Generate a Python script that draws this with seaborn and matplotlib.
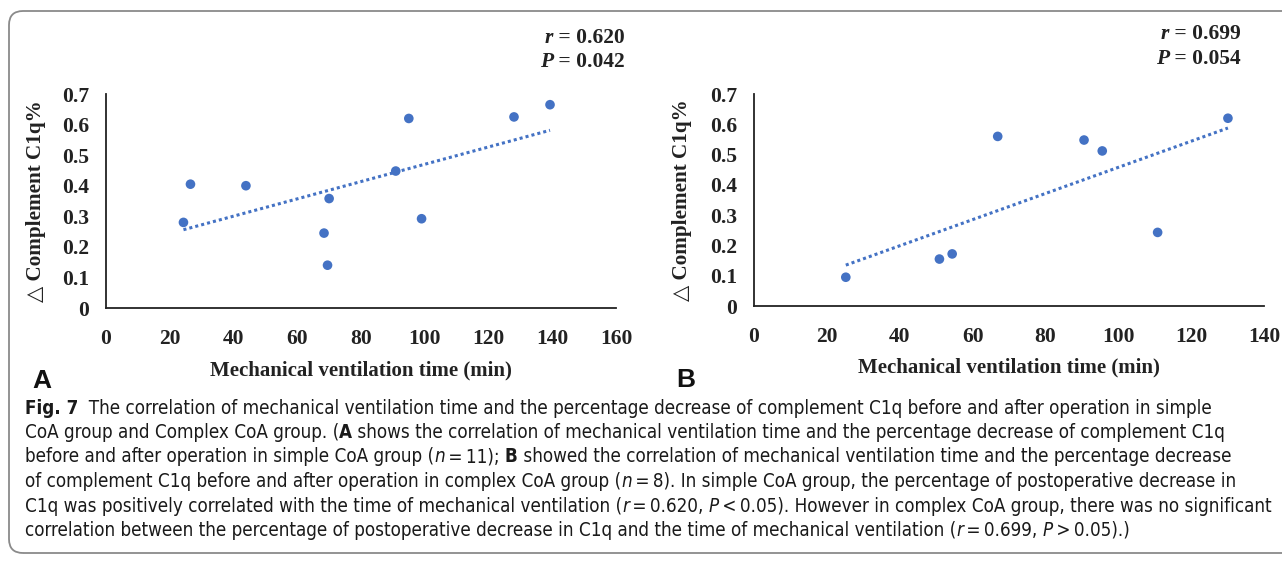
import re
import numpy as np
import pandas as pd
import seaborn as sns
import matplotlib
import matplotlib.pyplot as plt
from matplotlib.patches import FancyBboxPatch
from matplotlib.transforms import IdentityTransform

# values
time_a = [24.3, 26.5, 43.9, 68.4, 70.0, 69.5, 90.9, 95.0, 99.0, 128.0, 139.3]
c1q_a = [0.280, 0.405, 0.400, 0.245, 0.358, 0.140, 0.448, 0.620, 0.292, 0.625, 0.665]
time_b = [25.2, 50.9, 54.4, 66.9, 90.6, 95.6, 110.8, 130.1]
c1q_b = [0.095, 0.155, 0.172, 0.560, 0.548, 0.512, 0.243, 0.620]

xticks_a = [0, 20, 40, 60, 80, 100, 120, 140, 160]
xticks_b = [0, 20, 40, 60, 80, 100, 120, 140]
yticks = [0, 0.1, 0.2, 0.3, 0.4, 0.5, 0.6, 0.7]
stats_a = ('r', '0.620', 'P', '0.042')
stats_b = ('r', '0.699', 'P', '0.054')

# **bold**, _italic_
caption_lines = [
    '**Fig. 7**  The correlation of mechanical ventilation time and the percentage decrease of complement C1q before and after operation in simple',
    'CoA group and Complex CoA group. (**A** shows the correlation of mechanical ventilation time and the percentage decrease of complement C1q',
    'before and after operation in simple CoA group (_n_\u2009=\u200911); **B** showed the correlation of mechanical ventilation time and the percentage decrease',
    'of complement C1q before and after operation in complex CoA group (_n_\u2009=\u20098). In simple CoA group, the percentage of postoperative decrease in',
    'C1q was positively correlated with the time of mechanical ventilation (_r_\u2009=\u20090.620, _P_\u2009<\u20090.05). However in complex CoA group, there was no significant',
    'correlation between the percentage of postoperative decrease in C1q and the time of mechanical ventilation (_r_\u2009=\u20090.699, _P_\u2009>\u20090.05).)',
]

sns.set_style('white')
plt.rcParams['font.family'] = ['Liberation Serif', 'DejaVu Serif']

W, H = 1282, 565
fig = plt.figure(figsize=(W / 100, H / 100), dpi=100)
renderer = fig.canvas.get_renderer()

blue = '#4472C4'
ink = '#222222'
serif = ['Liberation Serif', 'DejaVu Serif']
cap_family = ['DejaVu Sans']


def text_width(s, **kw):
    # measure with guards so leading/trailing spaces count
    a = fig.text(0, 0, '|' + s + '|', **kw)
    b = fig.text(0, 0, '||', **kw)
    w = a.get_window_extent(renderer).width - b.get_window_extent(renderer).width
    a.remove()
    b.remove()
    return w


def rich_text(x, y, parts, **kw):
    # parts: list of (string, weight, style); x, y in pixels from top-left
    for s, weight, style in parts:
        opts = dict(kw, fontweight=weight, fontstyle=style)
        fig.text(x / W, 1 - y / H, s, va='center', ha='left', **opts)
        x += text_width(s, **opts)


def parse(line):
    parts = []
    for tok in re.split(r'(\*\*.+?\*\*|_.+?_)', line):
        if not tok:
            continue
        if tok.startswith('**'):
            parts.append((tok[2:-2], 'bold', 'normal'))
        elif tok.startswith('_'):
            parts.append((tok[1:-1], 'normal', 'italic'))
        else:
            parts.append((tok, 'normal', 'normal'))
    return parts


def px_axes(left, right, top, bottom):
    return fig.add_axes([left / W, 1 - bottom / H, (right - left) / W, (bottom - top) / H])


def panel(ax, x, y, xticks, ticklen, stats, stat_right, stat_y, ylab_x):
    df = pd.DataFrame({'x': x, 'y': y})
    sns.regplot(data=df, x='x', y='y', ax=ax, ci=None, truncate=True,
                scatter_kws={'s': 48, 'color': blue, 'edgecolor': 'none', 'alpha': 1},
                line_kws={'color': blue, 'ls': (0, (1, 1)), 'lw': 2.2})
    ax.set_xlim(xticks[0], xticks[-1])
    ax.set_ylim(0, 0.7)
    ax.set_xticks(xticks)
    ax.set_yticks(yticks)
    ax.set_xticklabels([str(t) for t in xticks])
    ax.set_yticklabels(['0'] + ['%.1f' % t for t in yticks[1:]])
    for s in ['top', 'right']:
        ax.spines[s].set_visible(False)
    for s in ['left', 'bottom']:
        ax.spines[s].set_color(ink)
        ax.spines[s].set_linewidth(1.3)
    ax.tick_params(axis='y', length=ticklen, width=1.2, color=ink, direction='out',
                   labelsize=15.5, pad=12.2 - ticklen, labelcolor=ink)
    ax.tick_params(axis='x', length=ticklen, width=1.2, color=ink, direction='out',
                   labelsize=15.5, pad=15 - ticklen, labelcolor=ink)
    for lab in ax.get_xticklabels() + ax.get_yticklabels():
        lab.set_fontweight('bold')
        lab.set_family(serif)
    ax.set_xlabel('Mechanical ventilation time (min)', fontsize=15, fontweight='bold',
                  family=serif, color=ink)
    ax.set_ylabel('\u25b3 Complement C1q%', fontsize=15.2, fontweight='bold',
                  family=serif, color=ink)
    ax.xaxis.set_label_coords(0.5, -0.245)
    ax.yaxis.set_label_coords(ylab_x, 0.5)
    ax.patch.set_alpha(0)
    kw = dict(fontsize=15.5, family=serif, color=ink)
    for (letter, value), yy in zip([(stats[0], stats[1]), (stats[2], stats[3])], stat_y):
        rest = ' = ' + value
        wr = text_width(rest, fontweight='bold', **kw)
        wl = text_width(letter, fontweight='bold', fontstyle='italic', **kw)
        rich_text(stat_right - wr - wl, yy, [(letter, 'bold', 'italic'), (rest, 'bold', 'normal')], **kw)


ax_a = px_axes(106, 616, 94, 308)
panel(ax_a, time_a, c1q_a, xticks_a, 0, stats_a, 625, (38, 62), -0.118)
ax_b = px_axes(754, 1264, 94, 306)
panel(ax_b, time_b, c1q_b, xticks_b, 3.6, stats_b, 1241, (34, 59), -0.122)

fig.text(32 / W, 1 - 381 / H, 'A', fontsize=19, fontweight='bold', family='Liberation Sans',
         va='center', ha='left', color='#111111')
fig.text(676 / W, 1 - 380 / H, 'B', fontsize=19, fontweight='bold', family='Liberation Sans',
         va='center', ha='left', color='#111111')

for i, line in enumerate(caption_lines):
    rich_text(25, 408 + i * 24.5, parse(line), fontsize=13.5, family=cap_family,
              stretch='condensed', color='#1a1a1a')

box = FancyBboxPatch((9, H - 553), 1320, 542, boxstyle='round,pad=0,rounding_size=14',
                     transform=IdentityTransform(), fill=False, edgecolor='#8a8a8a', lw=1.3,
                     figure=fig)
fig.patches.append(box)

fig.savefig('out.png', dpi=100)
